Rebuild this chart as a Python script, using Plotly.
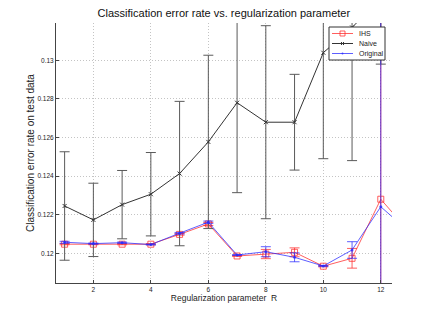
import plotly.graph_objects as go

# Data
R_naive = [1, 2, 3, 4, 5, 6, 7, 8, 9, 10, 11, 12]
naive = [0.12245, 0.12173, 0.12252, 0.12306, 0.12413, 0.12577, 0.12780, 0.12679, 0.12679, 0.13039, 0.1317, 0.1332]
naive_err = [0.00281, 0.0019, 0.00177, 0.00216, 0.00374, 0.00449, 0.00466, 0.0050, 0.00248, 0.00549, 0.0069, 0.0034]

R_full = [1, 2, 3, 4, 5, 6, 7, 8, 9, 10, 11, 12, 13]
ihs = [0.12047, 0.12047, 0.12047, 0.12047, 0.12098, 0.12152, 0.11986, 0.11996, 0.12005, 0.11933, 0.11974, 0.1228, 0.1211]
ihs_err = [0.00003, 0.00003, 0.00003, 0.00003, 0.00004, 0.00008, 0.00002, 0.00024, 0.00023, 0.00003, 0.00051, 0.02, 0.0]
original = [0.12057, 0.1205, 0.12055, 0.12045, 0.12104, 0.12161, 0.11991, 0.12008, 0.11979, 0.11934, 0.12017, 0.12241, 0.1211]
original_err = [0.00005, 0.00003, 0.00003, 0.00002, 0.00004, 0.00006, 0.00002, 0.00026, 0.00023, 0.00003, 0.00043, 0.02, 0.0]

series_names = ["IHS", "Naive", "Original"]
x_ticks = [2, 4, 6, 8, 10, 12]
y_ticks = [0.12, 0.122, 0.124, 0.126, 0.128, 0.13]
y_tick_labels = ["0.12", "0.122", "0.124", "0.126", "0.128", "0.13"]

FONT = "Liberation Sans, Arial, Helvetica, sans-serif"
RED = "rgba(255,40,40,0.75)"
BLUE = "rgba(40,40,255,0.75)"
BLACK = "#333333"
colors = [RED, BLACK, BLUE]

W, H = 433, 318
ML, MR, MT, MB = 56, 41, 23, 35
PW, PH = W - ML - MR, H - MT - MB

fig = go.Figure()
fig.add_trace(go.Scatter(
    x=R_full, y=ihs, name=series_names[0], mode="lines+markers",
    line=dict(color=RED, width=1),
    marker=dict(symbol="square-open", size=6, color=RED, line=dict(width=1)),
    error_y=dict(type="data", array=ihs_err, visible=True, color=RED, thickness=1, width=5),
))
fig.add_trace(go.Scatter(
    x=R_naive, y=naive, name=series_names[1], mode="lines+markers",
    line=dict(color=BLACK, width=1),
    marker=dict(symbol="x-thin-open", size=4, color=BLACK, line=dict(width=1, color=BLACK)),
    error_y=dict(type="data", array=naive_err, visible=True, color="#5a5a5a", thickness=1, width=5),
))
fig.add_trace(go.Scatter(
    x=R_full, y=original, name=series_names[2], mode="lines+markers",
    line=dict(color=BLUE, width=1),
    marker=dict(symbol="circle", size=3, color=BLUE),
    error_y=dict(type="data", array=original_err, visible=True, color=BLUE, thickness=1, width=5),
))

# compact MATLAB-style legend box (layout decoration in paper coordinates)
def px(xp):
    return (xp - ML) / PW

def py(yp):
    return (H - MB - yp) / PH

shapes = [dict(type="rect", xref="paper", yref="paper",
               x0=px(329), x1=px(385), y0=py(60), y1=py(27),
               fillcolor="white", line=dict(color="#333333", width=1), layer="above")]
annotations = []
for i, (nm, c) in enumerate(zip(series_names, colors)):
    yy = 33.5 + 10 * i
    shapes.append(dict(type="line", xref="paper", yref="paper",
                       x0=px(332), x1=px(353), y0=py(yy), y1=py(yy),
                       line=dict(color=c, width=1), layer="above"))
    if i == 0:
        shapes.append(dict(type="rect", xref="paper", yref="paper",
                           x0=px(340), x1=px(345), y0=py(yy + 2.5), y1=py(yy - 2.5),
                           line=dict(color=c, width=1), layer="above"))
    elif i == 1:
        for d in (1, -1):
            shapes.append(dict(type="line", xref="paper", yref="paper",
                               x0=px(341), x1=px(344), y0=py(yy - 1.5 * d), y1=py(yy + 1.5 * d),
                               line=dict(color=c, width=1), layer="above"))
    else:
        shapes.append(dict(type="circle", xref="paper", yref="paper",
                           x0=px(341.5), x1=px(343.5), y0=py(yy + 1), y1=py(yy - 1),
                           fillcolor=c, line=dict(color=c, width=0), layer="above"))
    annotations.append(dict(xref="paper", yref="paper", x=px(357), y=py(yy),
                            xanchor="left", yanchor="middle", showarrow=False,
                            text=nm, font=dict(size=7, family=FONT, color="#222222")))

fig.update_layout(
    width=W, height=H,
    margin=dict(l=ML, r=MR, t=MT, b=MB),
    paper_bgcolor="white", plot_bgcolor="white",
    font=dict(family=FONT, color="#222222", size=7),
    title=dict(text="Classification error rate vs. regularization parameter",
               x=0.517, xanchor="center", y=1 - 13 / H, yanchor="middle", yref="container",
               font=dict(size=11, color="#111111", family=FONT)),
    showlegend=False,
    shapes=shapes,
    annotations=annotations,
)
fig.update_xaxes(
    range=[0.7, 12.39], tickvals=x_ticks, ticktext=[str(v) for v in x_ticks],
    showgrid=True, gridcolor="#c4c4c4", griddash="1px,2px", gridwidth=1,
    showline=True, linecolor="#444444", linewidth=1, mirror=False,
    ticks="inside", ticklen=3, tickcolor="#444444", zeroline=False,
    tickfont=dict(size=6.5), automargin=False,
    title=dict(text="Regularization parameter  R", font=dict(size=8.5, family=FONT), standoff=1),
)
fig.update_yaxes(
    range=[0.11846, 0.13193], tickvals=y_ticks, ticktext=y_tick_labels,
    showgrid=True, gridcolor="#c4c4c4", griddash="1px,2px", gridwidth=1,
    showline=True, linecolor="#444444", linewidth=1, mirror=False,
    ticks="inside", ticklen=3, tickcolor="#444444", zeroline=False,
    tickfont=dict(size=6.5), automargin=False,
    title=dict(text="Classification error rate on test data", font=dict(size=10, family=FONT), standoff=0),
)

fig.write_html("out.html", config={"displayModeBar": False},
               post_script="document.body.style.margin='0';")
